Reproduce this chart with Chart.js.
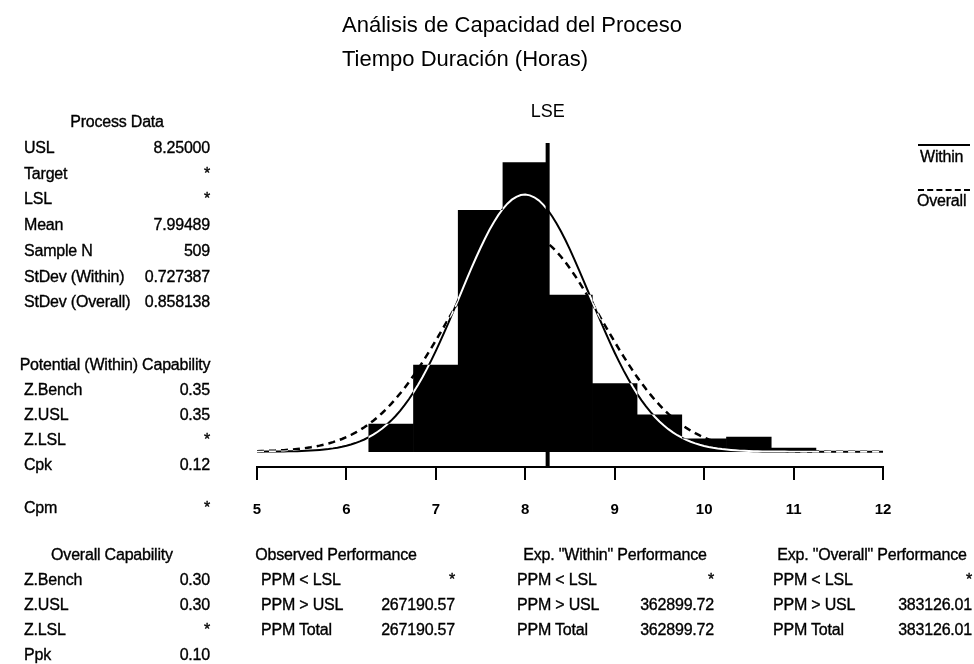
<!DOCTYPE html>
<html>
<head>
<meta charset="utf-8">
<script src="https://cdn.jsdelivr.net/npm/chart.js@4.4.1/dist/chart.umd.min.js"></script>
<style>
  body { margin: 0; background: #fff; }
  #wrap { position: relative; width: 974px; height: 664px; overflow: hidden;
          font-family: "Liberation Sans", Arial, sans-serif; color: #000; }
  #cap { position: absolute; left: 0; top: 0; }
  .t { position: absolute; white-space: nowrap; height: 24px; line-height: 24px; font-size: 16px;
       -webkit-text-stroke: 0.35px #000; letter-spacing: -0.2px; }
  .r { text-align: right; }
  .c { text-align: center; }
  .title { font-size: 22px; -webkit-text-stroke: 0; letter-spacing: 0; }
  .leg { position: absolute; width: 52px; border-top: 2px solid #000; }
  .leg.dash { border-top: 2.5px dashed #000; }
</style>
</head>
<body>
<div id="wrap">
  <canvas id="cap" width="974" height="664"></canvas>
</div>
<script>
// Histogram bins (midpoints, width 0.5) and counts
const binMids = [6.5, 7.0, 7.5, 8.0, 8.5, 9.0, 9.5, 10.0, 10.5, 11.0];
const binCounts = [15, 47, 131, 157, 85, 37, 20, 7, 8, 2];
const binWidth = 0.5;

// Process data
const usl = 8.25;
const meanVal = 7.99489;
const sampleN = 509;
const sdWithin = 0.727387;
const sdOverall = 0.858138;

// Axis
const xMin = 5, xMax = 12;
const yMin = -8.3, yMax = 167.6;

// Text tables
const processLabels = ["USL", "Target", "LSL", "Mean", "Sample N", "StDev (Within)", "StDev (Overall)"];
const processValues = ["8.25000", "*", "*", "7.99489", "509", "0.727387", "0.858138"];
const withinCapLabels = ["Z.Bench", "Z.USL", "Z.LSL", "Cpk"];
const withinCapValues = ["0.35", "0.35", "*", "0.12"];
const overallCapLabels = ["Z.Bench", "Z.USL", "Z.LSL", "Ppk"];
const overallCapValues = ["0.30", "0.30", "*", "0.10"];
const ppmLabels = ["PPM < LSL", "PPM > USL", "PPM Total"];
const observedPPM = ["*", "267190.57", "267190.57"];
const withinPPM = ["*", "362899.72", "362899.72"];
const overallPPM = ["*", "383126.01", "383126.01"];

const wrap = document.getElementById("wrap");
function addText(txt, x, y, align, cls) {
  const d = document.createElement("div");
  d.className = "t" + (cls ? " " + cls : "");
  d.textContent = txt;
  if (align === "right") { d.classList.add("r"); d.style.left = (x - 400) + "px"; d.style.width = "400px"; }
  else if (align === "center") { d.classList.add("c"); d.style.left = (x - 250) + "px"; d.style.width = "500px"; }
  else d.style.left = x + "px";
  d.style.top = (y - 12) + "px";
  wrap.appendChild(d);
  return d;
}

// fitted normal curve scaled to counts
function normalCurve(sd) {
  const pts = [];
  for (let i = 0; i <= 140; i++) {
    const x = xMin + i * 0.05;
    const z = (x - meanVal) / sd;
    pts.push({ x: x, y: sampleN * binWidth * Math.exp(-0.5 * z * z) / (sd * Math.sqrt(2 * Math.PI)) });
  }
  return pts;
}

const whiteBg = {
  id: "whiteBg",
  beforeDraw(chart) {
    const c = chart.ctx;
    c.save();
    c.fillStyle = "#fff";
    c.fillRect(0, 0, chart.width, chart.height);
    c.restore();
  }
};

// the within curve shows white over the black bars
const invertLine = {
  id: "invertLine",
  beforeDatasetDraw(chart, args) {
    if (chart.data.datasets[args.index].label === "Within") {
      chart.ctx.save();
      chart.ctx.globalCompositeOperation = "difference";
    }
  },
  afterDatasetDraw(chart, args) {
    if (chart.data.datasets[args.index].label === "Within") chart.ctx.restore();
  }
};

const chart = new Chart(document.getElementById("cap").getContext("2d"), {
  type: "bar",
  data: {
    datasets: [
      {
        type: "line", label: "USL", order: 0,
        data: [{ x: usl, y: yMin }, { x: usl, y: yMax }],
        borderColor: "#000", borderWidth: 4, pointRadius: 0
      },
      {
        type: "line", label: "Within", order: 1,
        data: normalCurve(sdWithin),
        borderColor: "#fff", borderWidth: 2, pointRadius: 0, tension: 0
      },
      {
        type: "line", label: "Overall", order: 2,
        data: normalCurve(sdOverall),
        borderColor: "#000", borderWidth: 2.5, borderDash: [7, 5], pointRadius: 0, tension: 0
      },
      {
        type: "bar", label: "Frequency", order: 3,
        data: binMids.map((m, i) => ({ x: m, y: binCounts[i] })),
        backgroundColor: "#000", borderWidth: 0,
        barPercentage: 1, categoryPercentage: 1, grouped: false
      }
    ]
  },
  options: {
    responsive: false,
    animation: false,
    layout: { padding: { left: 257, right: 91, top: 143, bottom: 137 } },
    plugins: { legend: { display: false }, tooltip: { enabled: false } },
    scales: {
      x: {
        type: "linear", min: xMin, max: xMax, offset: false,
        ticks: {
          stepSize: 1, color: "#000", padding: 21, maxRotation: 0,
          font: { family: "'Liberation Sans', Arial, sans-serif", size: 15, weight: "bold" }
        },
        grid: { drawOnChartArea: false, offset: false, color: "#000", lineWidth: 2, tickLength: 13 },
        border: { display: true, color: "#000", width: 2 },
        afterFit(scale) { scale.height = 60; }
      },
      y: { display: false, min: yMin, max: yMax }
    }
  },
  plugins: [whiteBg, invertLine]
});

// titles
addText("Análisis de Capacidad del Proceso", 342, 25, "left", "title");
addText("Tiempo Duración (Horas)", 342, 59, "left", "title");

// spec limit label over its line
const uslPx = chart.scales.x.getPixelForValue(usl);
addText("LSE", uslPx, 111, "center", "title").style.fontSize = "18px";

// legend
const l1 = document.createElement("div");
l1.className = "leg"; l1.style.left = "918px"; l1.style.top = "144px";
wrap.appendChild(l1);
addText("Within", 920, 157, "left");
const l2 = document.createElement("div");
l2.className = "leg dash"; l2.style.left = "918px"; l2.style.top = "189px";
wrap.appendChild(l2);
addText("Overall", 917, 201, "left");

// left panel
const labX = 24, valX = 210;
addText("Process Data", 117, 122, "center");
processLabels.forEach((s, i) => {
  addText(s, labX, 148 + i * 25.7, "left");
  addText(processValues[i], valX, 148 + i * 25.7, "right");
});
addText("Potential (Within) Capability", 115, 365, "center");
withinCapLabels.forEach((s, i) => {
  addText(s, labX, 390 + i * 25, "left");
  addText(withinCapValues[i], valX, 390 + i * 25, "right");
});
addText("Cpm", labX, 508, "left");
addText("*", valX, 508, "right");
addText("Overall Capability", 112, 555, "center");
overallCapLabels.forEach((s, i) => {
  addText(s, labX, 580 + i * 25, "left");
  addText(overallCapValues[i], valX, 580 + i * 25, "right");
});

// performance blocks
const blocks = [
  { head: "Observed Performance", hx: 336, lx: 261, vx: 455, vals: observedPPM },
  { head: "Exp. \"Within\" Performance", hx: 615, lx: 517, vx: 714, vals: withinPPM },
  { head: "Exp. \"Overall\" Performance", hx: 872, lx: 773, vx: 972, vals: overallPPM }
];
blocks.forEach(b => {
  addText(b.head, b.hx, 555, "center");
  ppmLabels.forEach((s, i) => {
    addText(s, b.lx, 580 + i * 25, "left");
    addText(b.vals[i], b.vx, 580 + i * 25, "right");
  });
});
</script>
</body>
</html>
